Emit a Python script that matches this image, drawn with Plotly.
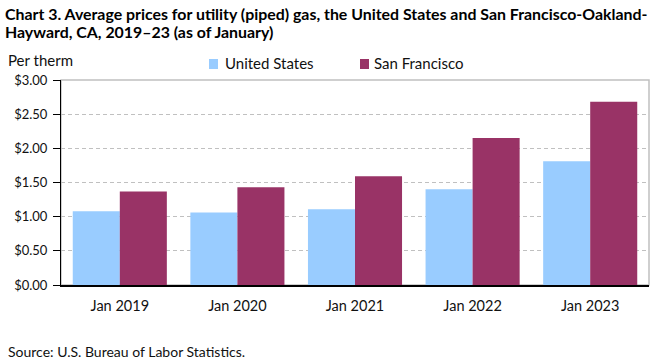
import plotly.graph_objects as go

categories = ["Jan 2019", "Jan 2020", "Jan 2021", "Jan 2022", "Jan 2023"]
us_values = [1.08, 1.06, 1.11, 1.40, 1.81]
sf_values = [1.37, 1.43, 1.59, 2.15, 2.68]
tick_vals = [0, 0.5, 1.0, 1.5, 2.0, 2.5, 3.0]
tick_text = ["$0.00", "$0.50", "$1.00", "$1.50", "$2.00", "$2.50", "$3.00"]
series_names = ["United States", "San Francisco"]
series_colors = ["#99ccff", "#993366"]

FONT = "Lato"
TXT = "#111111"

fig = go.Figure()
fig.add_trace(go.Bar(name=series_names[0], x=categories, y=us_values,
                     marker=dict(color=series_colors[0], line=dict(width=0))))
fig.add_trace(go.Bar(name=series_names[1], x=categories, y=sf_values,
                     marker=dict(color=series_colors[1], line=dict(width=0))))

fig.update_layout(
    width=661, height=361,
    margin=dict(l=61, r=12, t=80, b=76, autoexpand=False),
    paper_bgcolor="white", plot_bgcolor="white",
    barmode="group", bargap=0.2, bargroupgap=0,
    font=dict(family=FONT, size=14, color=TXT),
    showlegend=False,
)

fig.update_xaxes(showline=True, linecolor="#000000", linewidth=1.5, automargin=False,
                 showgrid=False, ticks="", ticklabelstandoff=7,
                 tickfont=dict(size=14.5, color=TXT))
fig.update_yaxes(range=[0, 3], tickvals=tick_vals, ticktext=tick_text, automargin=False,
                 showline=True, linecolor="#000000", linewidth=1,
                 ticks="outside", ticklen=7, tickcolor="#000000", ticklabelstandoff=3,
                 showgrid=True, gridcolor="#c0c0c0", griddash="4px,3px", gridwidth=1,
                 zeroline=False, tickfont=dict(size=13, color=TXT))

fig.add_shape(type="rect", xref="paper", yref="paper", x0=0, x1=1, y0=0, y1=1,
              line=dict(color="#c0c0c0", width=1.5), layer="below")

# title lines
fig.add_annotation(text="<b>Chart 3. Average prices for utility (piped) gas, the United States and San Francisco-Oakland-</b>",
                   xref="paper", yref="paper", x=-0.0986, y=1.3268, xanchor="left", yanchor="middle",
                   showarrow=False, font=dict(family=FONT, size=15.9, color="#000000"))
fig.add_annotation(text="<b>Hayward, CA, 2019–23 (as of January)</b>",
                   xref="paper", yref="paper", x=-0.0986, y=1.239, xanchor="left", yanchor="middle",
                   showarrow=False, font=dict(family=FONT, size=15.9, color="#000000"))

# custom legend
leg_sq = [(0.2517, 0.267), (0.5085, 0.5238)]
leg_tx = [0.2755, 0.5289]
for name, color, (a, b), tx in zip(series_names, series_colors, leg_sq, leg_tx):
    fig.add_shape(type="rect", xref="paper", yref="paper", x0=a, x1=b, y0=1.0537, y1=1.1024,
                  fillcolor=color, line=dict(width=0))
    fig.add_annotation(text=name, xref="paper", yref="paper", x=tx, y=1.0829,
                       xanchor="left", yanchor="middle", showarrow=False,
                       font=dict(family=FONT, size=15, color=TXT))

fig.add_annotation(text="Per therm", xref="paper", yref="paper", x=-0.0935, y=1.0976,
                   xanchor="left", yanchor="middle", showarrow=False,
                   font=dict(family=FONT, size=15, color=TXT))
fig.add_annotation(text="Source: U.S. Bureau of Labor Statistics.", xref="paper", yref="paper",
                   x=-0.0935, y=-0.3268, xanchor="left", yanchor="middle", showarrow=False,
                   font=dict(family=FONT, size=14, color=TXT))

fig.write_html("out.html", config={"displayModeBar": False},
               post_script="document.body.style.margin='0px';")
